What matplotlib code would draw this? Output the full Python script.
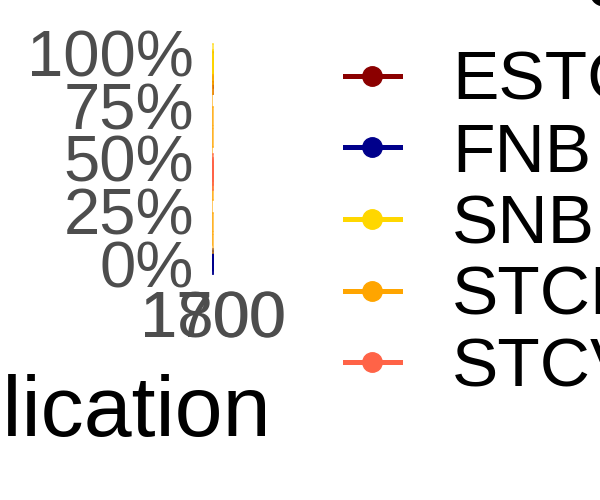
import numpy as np
import matplotlib.pyplot as plt
from matplotlib.ticker import PercentFormatter
from matplotlib.patches import Rectangle

# Data: share of editions per catalogue by decade
years = [1700, 1720, 1740, 1760, 1780, 1800]
catalogues = ['ESTC', 'FNB', 'SNB', 'STCN', 'STCV']
estc = [0.90, 0.96, 0.88, 0.93, 0.85, 0.91]
fnb = [0.00, 0.02, 0.01, 0.03, 0.00, 0.02]
snb = [0.95, 1.00, 0.92, 0.97, 0.90, 0.94]
stcn = [0.10, 0.85, 0.20, 0.70, 0.35, 0.60]
stcv = [0.40, 0.45, 0.42, 0.48, 0.44, 0.46]
series = [estc, fnb, snb, stcn, stcv]
colors = ['#8B0000', '#00008B', '#FFD700', '#FFA500', '#FF6347']

plt.rcParams['font.family'] = ['Liberation Sans', 'DejaVu Sans']
grey = '#4D4D4D'

fig = plt.figure(figsize=(6, 5), dpi=100)
fig.patch.set_facecolor('white')

# tiny panel, as in the reference
ax = fig.add_axes([212 / 600, 225 / 500, 1.2 / 600, 233 / 500])
ax.set_facecolor('white')

for name, vals, col in zip(catalogues, series, colors):
    ax.plot(years, vals, color=col, linewidth=3.6, marker='o',
            markersize=14, label=name, alpha=0.6)

ax.set_xlim(1695, 1805)
ax.set_ylim(-0.05, 1.05)
ax.set_xticks([1700, 1800])
ax.set_yticks([0, 0.25, 0.5, 0.75, 1.0])
ax.yaxis.set_major_formatter(PercentFormatter(1.0, decimals=0))
ax.tick_params(axis='y', length=0, pad=13, labelsize=47, labelcolor=grey)
ax.tick_params(axis='x', length=0, pad=11, labelsize=47, labelcolor=grey)
for s in ax.spines.values():
    s.set_visible(False)

ax.set_xlabel('Publication decade', fontsize=62, labelpad=17)

# white legend area covering the right part of the figure
fig.patches.append(Rectangle((297 / 600, 0), 1, 1, transform=fig.transFigure,
                             facecolor='white', edgecolor='none', zorder=1))

leg = fig.legend([plt.Line2D([], [], color=c, linewidth=3.6, marker='o',
                             markersize=14) for c in colors],
                 catalogues, loc='upper left',
                 bbox_to_anchor=(345 / 600, 1 - 50 / 500),
                 frameon=False, fontsize=50, handlelength=0.79,
                 handletextpad=0.75, labelspacing=0.11,
                 borderpad=0.0, borderaxespad=0.0)
leg.set_zorder(5)

# legend title sits above the top edge
fig.text(345 / 600, 1 + 10 / 500, 'Catalog', fontsize=60, ha='left',
         va='baseline', zorder=6)

fig.savefig('out.png', dpi=100)
